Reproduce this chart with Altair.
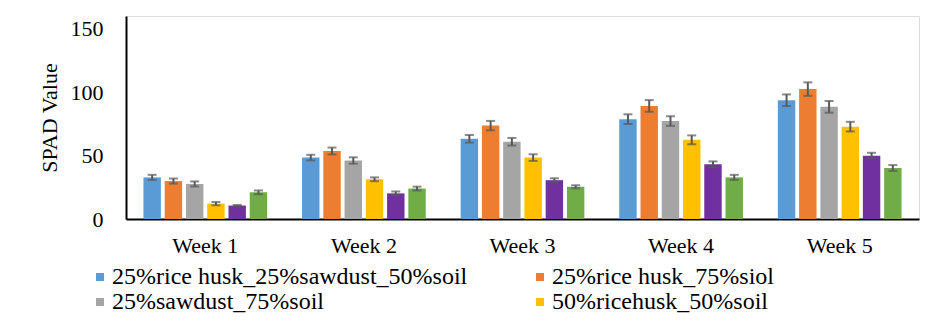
import altair as alt
import pandas as pd

weeks = ["Week 1", "Week 2", "Week 3", "Week 4", "Week 5"]
series = [
    "25%rice husk_25%sawdust_50%soil",
    "25%rice husk_75%siol",
    "25%sawdust_75%soil",
    "50%ricehusk_50%soil",
    "50%sawdust_50%soil",
    "100%soil",
]
colors = ["#5B9BD5", "#ED7D31", "#A5A5A5", "#FFC000", "#7030A0", "#70AD47"]

means = [
    [32.8, 48.4, 63.2, 78.7, 93.6],
    [29.9, 53.6, 73.6, 89.1, 102.4],
    [27.6, 46.1, 60.9, 77.2, 88.4],
    [12.1, 31.3, 48.4, 62.4, 72.8],
    [10.6, 20.2, 30.6, 43.2, 49.9],
    [21.0, 24.0, 25.4, 32.8, 40.2],
]
errs = [
    [2.0, 2.2, 3.0, 3.8, 4.6],
    [2.0, 2.7, 3.7, 4.6, 5.3],
    [2.0, 2.5, 3.0, 3.8, 4.6],
    [1.3, 1.5, 2.6, 3.5, 3.8],
    [0.5, 1.5, 1.5, 2.2, 2.3],
    [1.5, 1.5, 1.2, 2.0, 2.3],
]

rows = []
for s, m_list, e_list in zip(series, means, errs):
    for w, m, e in zip(weeks, m_list, e_list):
        rows.append({"week": w, "series": s, "mean": m, "lo": m - e, "hi": m + e})
df = pd.DataFrame(rows)

FONT = "Liberation Serif, Times New Roman, serif"

x = alt.X("week:N", sort=weeks, title=None,
          scale=alt.Scale(paddingInner=0.22, paddingOuter=0.11),
          axis=alt.Axis(labelAngle=0, labelFontSize=22, labelColor="black",
                        labelPadding=16, ticks=False, domainColor="black",
                        domainWidth=2, labelFont=FONT))
xoff = alt.XOffset("series:N", sort=series,
                   scale=alt.Scale(paddingInner=0.18, paddingOuter=0))

bars = alt.Chart(df).mark_bar().encode(
    x=x,
    xOffset=xoff,
    y=alt.Y("mean:Q", title="SPAD Value",
            scale=alt.Scale(domain=[0, 150]),
            axis=alt.Axis(values=[0, 50, 100, 150], grid=False, ticks=False,
                          labelFontSize=22, labelColor="black", labelPadding=23,
                          domainColor="black", domainWidth=2, titleFontSize=22,
                          titleFontWeight="normal", titleColor="black",
                          titlePadding=9, labelFont=FONT, titleFont=FONT)),
    color=alt.Color("series:N", sort=series,
                    scale=alt.Scale(domain=series, range=colors),
                    legend=alt.Legend(
                        title=None, orient="none", legendX=-38, legendY=249,
                        direction="horizontal", columns=2, columnPadding=60,
                        values=series[:4], symbolType="square", symbolSize=64,
                        symbolStrokeWidth=0, labelFontSize=24, labelFont=FONT,
                        labelColor="black", rowPadding=1, labelOffset=0,
                        labelLimit=0)),
)

rule = alt.Chart(df).mark_rule(color="#595959", strokeWidth=2).encode(
    x=alt.X("week:N", sort=weeks), xOffset=xoff,
    y="lo:Q", y2="hi:Q")
cap_lo = alt.Chart(df).mark_tick(color="#595959", size=9, thickness=2).encode(
    x=alt.X("week:N", sort=weeks), xOffset=xoff, y="lo:Q")
cap_hi = alt.Chart(df).mark_tick(color="#595959", size=9, thickness=2).encode(
    x=alt.X("week:N", sort=weeks), xOffset=xoff, y="hi:Q")

chart = alt.layer(bars, rule, cap_lo, cap_hi).properties(
    width=793, height=203,
    autosize=alt.AutoSizeParams(type="none"),
    padding={"left": 126, "top": 16, "right": 17, "bottom": 105},
    background="white",
).configure_view(stroke=None).configure(font=FONT)

chart.save("out.html", embed_options={"renderer": "svg", "actions": False})
